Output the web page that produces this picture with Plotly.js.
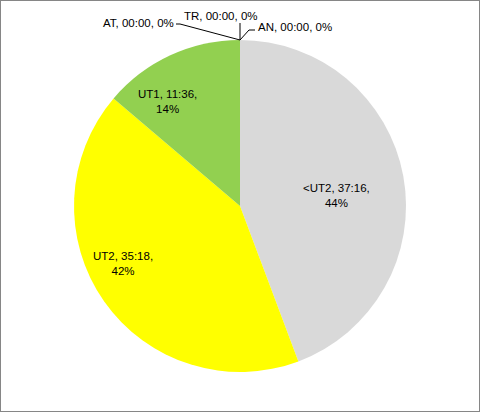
<!DOCTYPE html>
<html><head><meta charset="utf-8">
<script src="https://cdn.plot.ly/plotly-3.0.1.min.js"></script>
<style>
html,body{margin:0;padding:0;background:#fff;}
#chart{width:480px;height:412px;box-sizing:border-box;border:1px solid #868686;}
</style></head>
<body><div id="chart"></div>
<script>
var labels = ["<UT2", "UT2", "UT1", "AT", "TR", "AN"];
var times = ["37:16", "35:18", "11:36", "00:00", "00:00", "00:00"];
var minutes = [2236, 2118, 696, 0, 0, 0];
var colors = ["#D9D9D9", "#FFFF00", "#92D050", "#4472C4", "#ED7D31", "#A5A5A5"];

var total = minutes.reduce(function(a,b){return a+b;},0);

// image pixel -> paper coords (plot area 74..406 x 40..372)
function px(x){ return (x - 74) / 332; }
function py(y){ return 1 - (y - 40) / 332; }

var font = {family: "Liberation Sans, Arial, sans-serif", size: 11.5, color: "#000"};

var trace = {
  type: "pie",
  labels: labels,
  values: minutes,
  textinfo: "none",
  marker: {colors: colors, line: {width: 0}},
  sort: false,
  direction: "clockwise",
  rotation: 0,
  showlegend: false,
  hoverinfo: "none"
};

function pct(i){ return Math.round(100 * minutes[i] / total) + "%"; }
var ann = [
  {i: 0, x: 336, y: 195, xanchor: "center", br: true},
  {i: 1, x: 123, y: 263, xanchor: "center", br: true},
  {i: 2, x: 167, y: 101, xanchor: "center", br: true},
  {i: 3, x: 176, y: 23, xanchor: "right"},
  {i: 4, x: 182, y: 16, xanchor: "left"},
  {i: 5, x: 256, y: 27, xanchor: "left"}
].map(function(a){
  return {
    xref: "paper", yref: "paper", x: px(a.x), y: py(a.y),
    xanchor: a.xanchor, yanchor: "middle", showarrow: false,
    text: labels[a.i] + ", " + times[a.i] + "," + (a.br ? "<br>" : " ") + pct(a.i),
    font: font
  };
});

function path(pts){
  return pts.map(function(p,k){ return (k?"L":"M") + px(p[0]) + "," + py(p[1]); }).join(" ");
}
var lineStyle = {color: "#000", width: 1};
var shapes = [
  {type: "path", xref: "paper", yref: "paper", path: path([[176,24],[180,24],[240,40]]), line: lineStyle},
  {type: "path", xref: "paper", yref: "paper", path: path([[240,23],[240,40]]), line: lineStyle},
  {type: "path", xref: "paper", yref: "paper", path: path([[240,40],[249,30],[255,30]]), line: lineStyle}
];

var layout = {
  width: 478, height: 410,
  margin: {l: 73, r: 73, t: 39, b: 39},
  paper_bgcolor: "#fff", plot_bgcolor: "#fff",
  annotations: ann,
  shapes: shapes,
  showlegend: false
};

Plotly.newPlot("chart", [trace], layout, {displayModeBar: false, staticPlot: true});
</script>
</body></html>
